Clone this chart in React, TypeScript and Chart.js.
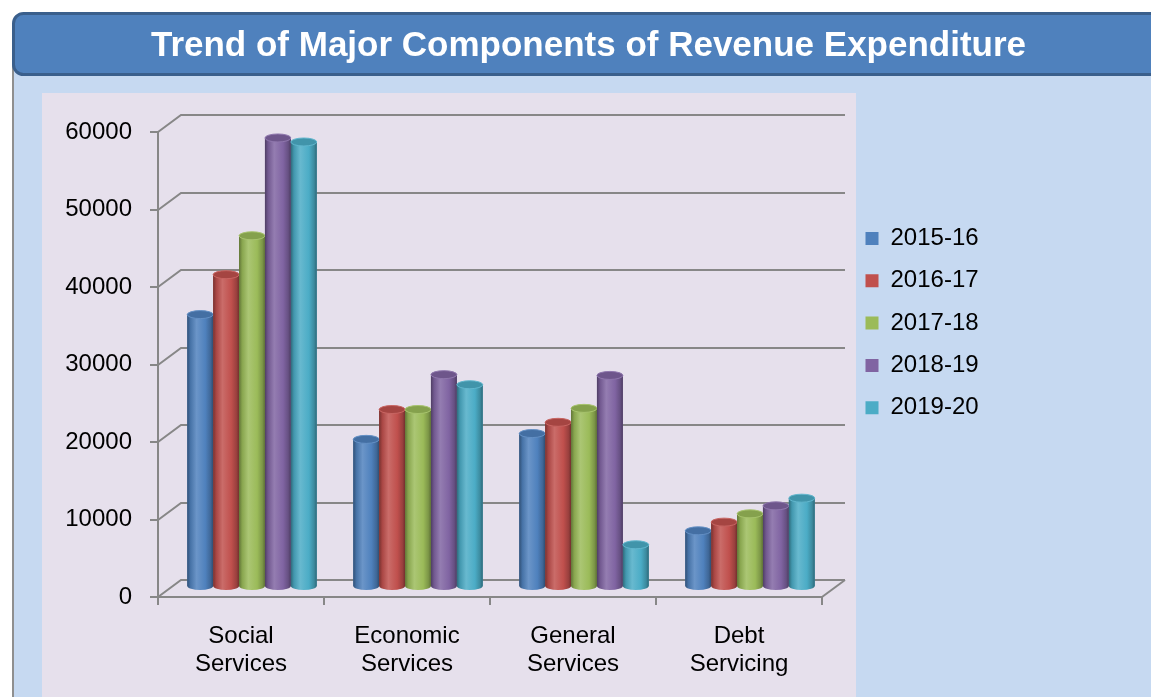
import { useEffect, useRef } from 'react';
import { Chart, registerables } from 'chart.js';

Chart.register(...registerables);

// ---------------- data ----------------
const categories = [
  ['Social', 'Services'],
  ['Economic', 'Services'],
  ['General', 'Services'],
  ['Debt', 'Servicing'],
];
const seriesLabels = ['2015-16', '2016-17', '2017-18', '2018-19', '2019-20'];
const values2015_16 = [35150, 19050, 19800, 7250];
const values2016_17 = [40300, 22900, 21250, 8370];
const values2017_18 = [45320, 22900, 23050, 9440];
const values2018_19 = [57940, 27400, 27300, 10470];
const values2019_20 = [57420, 26100, 5450, 11460];
const seriesValues = [values2015_16, values2016_17, values2017_18, values2018_19, values2019_20];
const seriesColors = ['#4F81BD', '#C0504D', '#9BBB59', '#8064A2', '#4BACC6'];
const yMin = 0;
const yMax = 60000;
const yStep = 10000;
const titleText = 'Trend of Major Components of Revenue Expenditure';

// ---------------- style / layout ----------------
const FONT = '"Liberation Sans", Arial, Helvetica, sans-serif';
const W = 1151;
const H = 697;
const GRID = '#878787';
const BACK_DX = 23;
const BACK_DY = -17;
const BAR_DX = 11;
const BAR_DY = -10;
const CAP_RY = 4;
const LEGEND_WIDTH = 329;
const LEGEND_PAD = 18.3;
const LEGEND_SHIFT_X = 25.2;
const LEGEND_SHIFT_Y = -25.4;

function hexToRgb(hex: string) {
  const h = hex.replace('#', '');
  return [parseInt(h.slice(0, 2), 16), parseInt(h.slice(2, 4), 16), parseInt(h.slice(4, 6), 16)];
}
function shade(hex: string, t: number) {
  const [r, g, b] = hexToRgb(hex);
  const f = (c: number) => Math.round(t >= 0 ? c + (255 - c) * t : c * (1 + t));
  return `rgb(${f(r)},${f(g)},${f(b)})`;
}

function drawCylinder(ctx: CanvasRenderingContext2D, x: number, top: number, base: number, w: number, color: string) {
  const l = x - w / 2;
  const r = x + w / 2;
  const rx = w / 2;
  const g = ctx.createLinearGradient(l, 0, r, 0);
  g.addColorStop(0, shade(color, -0.38));
  g.addColorStop(0.12, shade(color, -0.12));
  g.addColorStop(0.36, shade(color, 0.16));
  g.addColorStop(0.7, color);
  g.addColorStop(0.9, shade(color, -0.2));
  g.addColorStop(1, shade(color, -0.4));
  ctx.beginPath();
  ctx.moveTo(l, top);
  ctx.lineTo(l, base);
  ctx.ellipse(x, base, rx, CAP_RY, 0, Math.PI, 0, true);
  ctx.lineTo(r, top);
  ctx.closePath();
  ctx.fillStyle = g;
  ctx.fill();
  // top cap
  ctx.beginPath();
  ctx.ellipse(x, top, rx, CAP_RY, 0, 0, Math.PI * 2);
  ctx.fillStyle = shade(color, -0.14);
  ctx.fill();
  ctx.lineWidth = 1;
  ctx.strokeStyle = shade(color, 0.12);
  ctx.stroke();
}

const decorPlugin = {
  id: 'decor',
  beforeLayout(chart: any) {
    const lg = chart.legend;
    if (lg && !lg.__patched) {
      const fit = lg.fit;
      lg.fit = function () {
        fit.call(this);
        this.width = LEGEND_WIDTH;
      };
      lg.__patched = true;
    }
  },
  afterLayout(chart: any) {
    const lg = chart.legend;
    if (lg) {
      lg.left += LEGEND_SHIFT_X;
      lg.right += LEGEND_SHIFT_X;
      lg.top += LEGEND_SHIFT_Y;
      lg.bottom += LEGEND_SHIFT_Y;
    }
  },
  beforeDraw(chart: any) {
    const ctx: CanvasRenderingContext2D = chart.ctx;
    ctx.save();
    ctx.fillStyle = '#ffffff';
    ctx.fillRect(0, 0, W, H);
    // light blue panel
    ctx.fillStyle = '#C6D9F1';
    ctx.fillRect(13, 40, W - 13, H - 40);
    // left border of panel
    ctx.strokeStyle = '#8f8f8f';
    ctx.lineWidth = 2;
    ctx.beginPath();
    ctx.moveTo(13, 60);
    ctx.lineTo(13, H);
    ctx.stroke();
    // banner
    ctx.beginPath();
    ctx.roundRect(13.5, 13.5, W + 30, 61, 10);
    ctx.fillStyle = '#4F81BD';
    ctx.fill();
    ctx.lineWidth = 3;
    ctx.strokeStyle = '#3A5F8C';
    ctx.stroke();
    // plot panel
    ctx.fillStyle = '#E6E0EC';
    ctx.fillRect(42, 93, 856 - 42, H - 93);
    ctx.restore();
  },
  beforeDatasetsDraw(chart: any) {
    const ctx: CanvasRenderingContext2D = chart.ctx;
    const { left, right } = chart.chartArea;
    const ys = chart.scales.y;
    ctx.save();
    ctx.strokeStyle = GRID;
    ctx.lineWidth = 2;
    ys.ticks.forEach((t: any) => {
      const fy = Math.round(ys.getPixelForValue(t.value));
      ctx.beginPath();
      ctx.moveTo(left, fy);
      ctx.lineTo(left + BACK_DX, fy + BACK_DY);
      ctx.lineTo(right + BACK_DX, fy + BACK_DY);
      ctx.stroke();
    });
    const f0 = Math.round(ys.getPixelForValue(yMin));
    ctx.beginPath();
    ctx.moveTo(right, f0);
    ctx.lineTo(right + BACK_DX, f0 + BACK_DY);
    ctx.stroke();
    ctx.restore();
    ctx.save();
    ctx.translate(BAR_DX, BAR_DY);
  },
  afterDatasetsDraw(chart: any) {
    const ctx: CanvasRenderingContext2D = chart.ctx;
    chart.data.datasets.forEach((ds: any, i: number) => {
      const meta = chart.getDatasetMeta(i);
      meta.data.forEach((el: any) => {
        const p = el.getProps(['x', 'y', 'base', 'width'], true);
        drawCylinder(ctx, p.x, p.y, p.base, p.width, ds.backgroundColor);
      });
    });
    ctx.restore();
  },
};

export default function App() {
  const ref = useRef<HTMLCanvasElement | null>(null);
  useEffect(() => {
    if (!ref.current) return;
    const chart = new Chart(ref.current, {
      type: 'bar',
      data: {
        labels: categories,
        datasets: seriesLabels.map((label, i) => ({
          label,
          data: seriesValues[i],
          backgroundColor: seriesColors[i],
          borderWidth: 0,
          categoryPercentage: 0.78,
          barPercentage: 1.0,
          clip: false,
        })),
      },
      options: {
        animation: false,
        responsive: false,
        devicePixelRatio: 1,
        layout: { padding: { left: 26, right: 0, top: 0, bottom: 0 } },
        plugins: {
          title: {
            display: true,
            text: titleText,
            color: '#ffffff',
            font: { family: FONT, size: 35, weight: 'bold', lineHeight: 1.2 },
            padding: { top: 25, bottom: 65 },
          },
          legend: {
            position: 'right',
            labels: {
              boxWidth: 13,
              boxHeight: 13,
              padding: LEGEND_PAD,
              color: '#000000',
              font: { family: FONT, size: 24, lineHeight: 1.2 },
            },
          },
          tooltip: { enabled: false },
        },
        scales: {
          x: {
            type: 'category',
            offset: true,
            grid: {
              offset: true,
              drawOnChartArea: false,
              drawTicks: true,
              tickLength: 8,
              color: GRID,
              lineWidth: 2,
            },
            border: { display: true, color: GRID, width: 2 },
            ticks: {
              color: '#000000',
              padding: 17,
              maxRotation: 0,
              autoSkip: false,
              font: { family: FONT, size: 24, lineHeight: 1.1667 },
            },
            afterFit: (s: any) => {
              s.height = 100;
            },
          },
          y: {
            min: yMin,
            max: yMax,
            grid: {
              drawOnChartArea: false,
              drawTicks: true,
              tickLength: 8,
              color: GRID,
              lineWidth: 2,
            },
            border: { display: true, color: GRID, width: 2 },
            ticks: {
              stepSize: yStep,
              color: '#000000',
              padding: 18,
              font: { family: FONT, size: 24 },
              callback: (v: any) => String(v),
            },
            afterFit: (s: any) => {
              s.width = 132;
            },
          },
        },
      } as any,
      plugins: [decorPlugin as any],
    });
    return () => chart.destroy();
  }, []);
  return (
    <div style={{ position: 'absolute', left: 0, top: 0, width: W, height: H }}>
      <canvas ref={ref} width={W} height={H} style={{ display: 'block' }} />
    </div>
  );
}
